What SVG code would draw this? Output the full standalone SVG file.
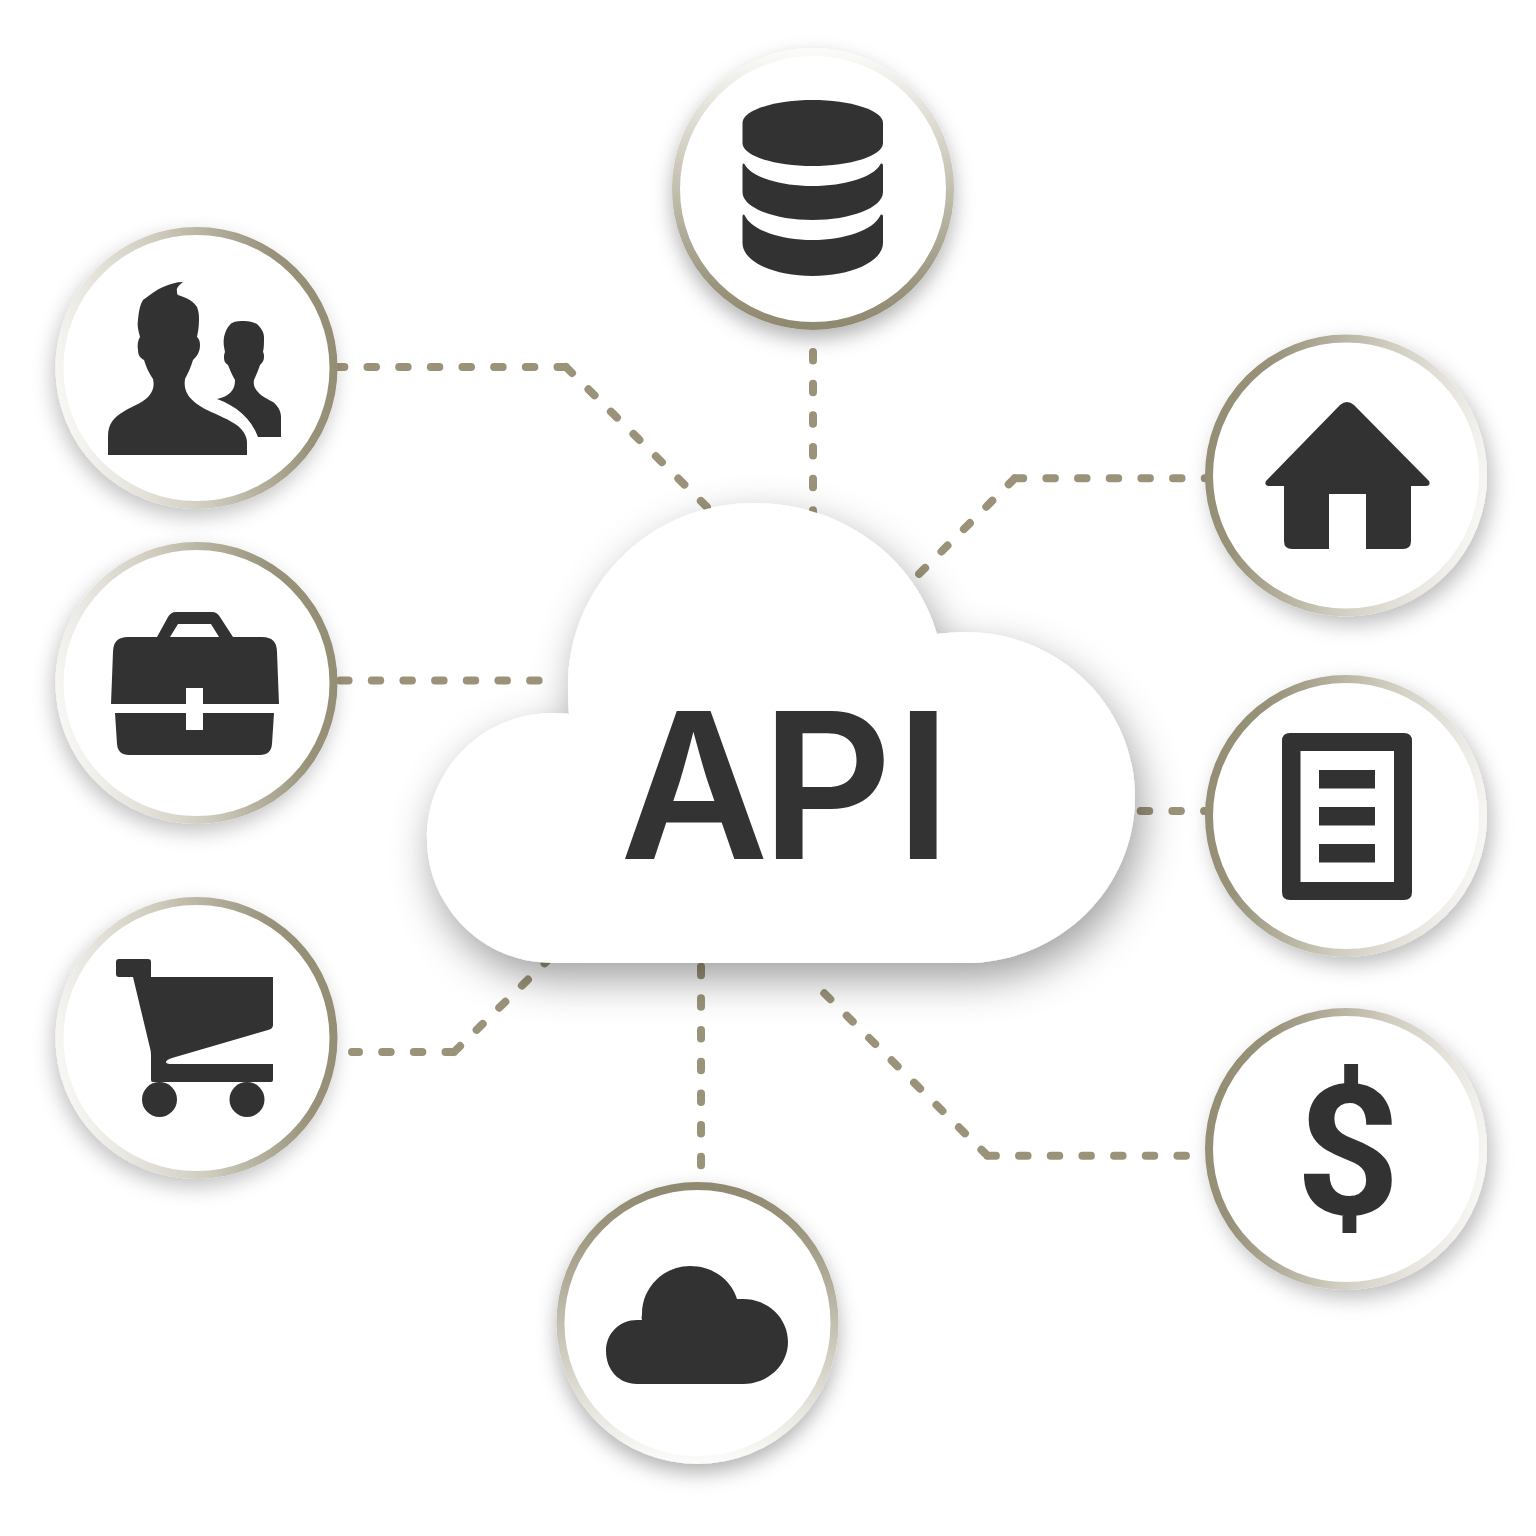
<svg xmlns="http://www.w3.org/2000/svg" width="1536" height="1536" viewBox="0 0 1536 1536">
<style>
.ring{fill:#fff;stroke-width:8}
.icon{fill:#333}
.conn{fill:none;stroke:#9b9379;stroke-width:8;stroke-linecap:round;stroke-linejoin:round;stroke-dasharray:8.500 23.170}
.lbl{fill:#333}
.api{font-family:Inter,"Liberation Sans",sans-serif;font-size:204px;font-weight:600}
.usd{font-family:Roboto,"Liberation Sans",sans-serif;font-size:182px;font-weight:700}
</style>
<defs>
<linearGradient id="gR" x1="0" y1="0.62" x2="1" y2="0.42"><stop offset="0" stop-color="#f8f7f5"/><stop offset="0.45" stop-color="#cfccbe"/><stop offset="0.85" stop-color="#98927a"/><stop offset="1" stop-color="#948e74"/></linearGradient>
<linearGradient id="gL" x1="1" y1="0.62" x2="0" y2="0.42"><stop offset="0" stop-color="#f8f7f5"/><stop offset="0.45" stop-color="#cfccbe"/><stop offset="0.85" stop-color="#98927a"/><stop offset="1" stop-color="#948e74"/></linearGradient>
<linearGradient id="gB" x1="0" y1="0" x2="0" y2="1"><stop offset="0" stop-color="#fbfbf9"/><stop offset="0.45" stop-color="#c8c5b6"/><stop offset="0.85" stop-color="#9b957e"/><stop offset="1" stop-color="#8f8970"/></linearGradient>
<linearGradient id="gT" x1="0" y1="1" x2="0" y2="0"><stop offset="0" stop-color="#fbfbf9"/><stop offset="0.45" stop-color="#c8c5b6"/><stop offset="0.85" stop-color="#9b957e"/><stop offset="1" stop-color="#8f8970"/></linearGradient>
<filter id="sD" x="-20%" y="-20%" width="140%" height="140%"><feDropShadow dx="0" dy="9" stdDeviation="10" flood-color="#000" flood-opacity="0.3"/></filter>
<filter id="sL" x="-20%" y="-20%" width="140%" height="140%"><feDropShadow dx="-3" dy="8" stdDeviation="10" flood-color="#000" flood-opacity="0.24"/></filter>
<filter id="sRt" x="-20%" y="-20%" width="140%" height="140%"><feDropShadow dx="5" dy="8" stdDeviation="10" flood-color="#000" flood-opacity="0.26"/></filter>
<filter id="sC" x="-20%" y="-20%" width="140%" height="140%"><feDropShadow dx="6" dy="16" stdDeviation="21" flood-color="#000" flood-opacity="0.38"/></filter>
</defs>
<rect width="1536" height="1536" fill="#fff"/>
<g id="connectors">
<path class="conn" d="M566 367H338M566 367L715 515"/>
<path class="conn" d="M538.600 680.500H340"/>
<path class="conn" d="M454 1052H352M454 1052L550 958"/>
<path class="conn" d="M813 352V515"/>
<path class="conn" d="M1014.700 478.300H1212M1014.700 478.300L905 588"/>
<path class="conn" d="M1140.700 811H1212"/>
<path class="conn" d="M701 966.700V1166"/>
<path class="conn" d="M987.400 1155.700H1190M987.400 1155.700L820 989"/>
</g>
<g id="node-users" filter="url(#sL)">
<circle class="ring" cx="196.500" cy="368" r="137" stroke="url(#gR)"/>
<path class="icon" d="M108 455V436C108 424 114 417 123 412C132 406 146 402 151 393C154 388 154 384 153 379C149 373 146 367 144 360C140 358 138 355 138 350C137 345 138 340 140 337C138 330 137 325 138 320C139 310 140 305 143 300C150 295 156 290 163 287C170 284 176 282 183 282C178 286 176 289 177 291C177 293 177 294 178 295C188 298 194 302 197 307C199 312 199 316 199 320C199 326 198 332 197 337C200 340 200 343 200 345C200 351 198 355 193 360C191 367 188 373 185 379C184 385 185 390 188 395C192 401 199 406 207 410C218 415 230 420 238 426C244 431 247 437 247 443V455Z"/>
<path class="icon" d="M217 399C222 398 227 396 230 393C234 389 235 385 235 380C232 375 230 370 228 365C225 363 224 361 224 358C224 356 224 354 225 352C224 347 223 343 224 337C226 329 229 325 232 323C236 321 240 321 244 321C249 321 253 322 257 324C261 328 264 332 264 337C264 343 264 348 263 352C264 354 264 355 264 357C264 361 262 363 260 365C258 371 256 375 254 380C253 385 255 389 258 392C262 397 268 399 273 402C278 406 281 411 281 417V437H258C251 418 236 406 217 399Z"/>
</g>
<g id="node-briefcase" filter="url(#sL)">
<circle class="ring" cx="196.500" cy="683" r="137" stroke="url(#gR)"/>
<path class="icon" fill-rule="evenodd" d="M157 637L168 617Q171 612 176 612H212Q217 612 220 617L233 637H262Q277 637 277 652L279 704H203V688H186V704H111L113 652Q113 637 128 637ZM170 637H219L211 624H178Z"/>
<path class="icon" d="M115 713H186V730H203V713H274L272 744Q271 755 260 755H129Q118 755 117 744Z"/>
</g>
<g id="node-cart" filter="url(#sL)">
<circle class="ring" cx="196.500" cy="1038" r="137" stroke="url(#gR)"/>
<path class="icon" d="M119 959H148Q151 959 151 962V977H273V1025Q273 1029 268 1030L172 1058Q166 1060 166 1062Q166 1064 172 1064H273V1080Q273 1082 271 1082H153Q151 1082 151 1080V1055Q151 1051 150 1048L133 977H119Q116 977 116 974V962Q116 959 119 959Z"/>
<circle class="icon" cx="159.500" cy="1099.500" r="17.500"/>
<circle class="icon" cx="247" cy="1099.500" r="17.500"/>
</g>
<g id="node-database" filter="url(#sD)">
<circle class="ring" cx="813" cy="189" r="137" stroke="url(#gB)"/>
<path class="icon" d="M742.500 123C742.500 110 775 100 812.500 100S883 110 883 123V143C883 156 850 166 812.500 166S742.500 156 742.500 143Z"/>
<path class="icon" d="M742.500 166C742.500 163 744 163 745 165C752 177 780 186 812.500 186S873 177 880 165C881 163 883 163 883 166V192C883 208 850 220 812.500 220S742.500 208 742.500 192Z"/>
<path class="icon" d="M742.500 217C742.500 214 744 214 745 216C752 230 780 240 812.500 240S873 230 880 216C881 214 883 214 883 217V243C883 262 850 276 812.500 276S742.500 262 742.500 243Z"/>
</g>
<g id="node-home" filter="url(#sRt)">
<circle class="ring" cx="1346" cy="475.500" r="137" stroke="url(#gL)"/>
<path class="icon" d="M1340 405Q1347 399 1354 405L1429 481Q1431 485 1427 486H1411V541Q1411 549 1403 549H1366V494H1329V549H1292Q1284 549 1284 541V486H1268Q1264 485 1266 481Z"/>
</g>
<g id="node-document" filter="url(#sRt)">
<circle class="ring" cx="1346" cy="816" r="137" stroke="url(#gL)"/>
<path class="icon" fill-rule="evenodd" d="M1290 733H1404Q1412 733 1412 741V892Q1412 900 1404 900H1290Q1282 900 1282 892V741Q1282 733 1290 733ZM1300.500 751V882H1394V751Z"/>
<rect class="icon" x="1319" y="770" width="56" height="18.500"/>
<rect class="icon" x="1319" y="807" width="56" height="18.500"/>
<rect class="icon" x="1319" y="844" width="56" height="18.500"/>
</g>
<g id="node-dollar" filter="url(#sRt)">
<circle class="ring" cx="1346" cy="1149" r="137" stroke="url(#gL)"/>
<text class="lbl usd" x="1348" y="1214" text-anchor="middle">$</text>
</g>
<g id="node-cloud" filter="url(#sD)">
<circle class="ring" cx="697.500" cy="1323" r="137" stroke="url(#gT)"/>
<path class="icon" d="M637 1384C619 1384 606 1370 606 1351C606 1333 620 1320 637 1320C639 1320 640 1320 642 1320C641 1318 642 1316 642 1314C642 1287 664 1266 690 1266C712 1266 731 1279 737 1299C739 1299 741 1299 743 1299C768 1299 788 1318 788 1342C788 1365 768 1384 743 1384Z"/>
</g>
<g id="node-api">
<path fill="#fff" filter="url(#sC)" d="M553 963C483 963 427 907 427 838C427 769 483 713 553 713C558 713 564 713 569 714C568 705 568 696 568 687C568 584 651 503 754 503C841 503 915 557 937 634C946 633 955 632 965 632C1059 632 1135 706 1135 797C1135 889 1059 963 965 963Z"/>
<text class="lbl api" x="620 761 895" y="859">API</text>
</g>
</svg>
